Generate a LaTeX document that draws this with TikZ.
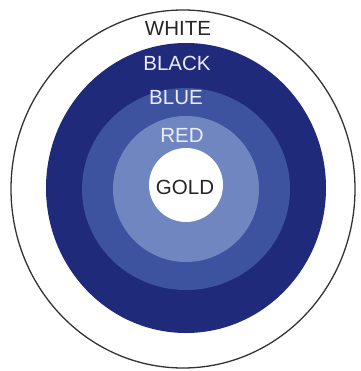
\documentclass[tikz,border=0pt]{standalone}
\usepackage{fontspec}
\setmainfont{Liberation Sans}
\definecolor{ringdark}{HTML}{1F2A7A}
\definecolor{ringmid}{HTML}{3D53A0}
\definecolor{ringlight}{HTML}{6F86C0}
\tikzset{
  lab/.style={font=\fontsize{20.5}{20.5}\selectfont, inner sep=0pt},
  darklab/.style={lab, text=black!85},
  lightlab/.style={lab, text=white!92!blue},
}
\begin{document}
\begin{tikzpicture}[x=1pt,y=-1pt]
\useasboundingbox (0,0) rectangle (360,371);
\fill[white] (0,0) rectangle (360,371);
\draw[line width=1.3pt, draw=black!80, fill=white] (183,189) ellipse [x radius=172, y radius=179];
\fill[ringdark] (186,188) ellipse [x radius=140, y radius=145];
\fill[ringmid] (186,189) ellipse [x radius=104, y radius=101];
\fill[ringlight] (186,189) circle [radius=73];
\fill[white] (186,185) circle [radius=37];
\node[darklab] (white) at (178,28) {WHITE};
\node[lightlab] (black) at (177,63) {BLACK};
\node[lightlab] (blue) at (176,98) {BLUE};
\node[lightlab] (red) at (182,135) {RED};
\node[darklab] (gold) at (185,187) {GOLD};
\end{tikzpicture}
\end{document}
